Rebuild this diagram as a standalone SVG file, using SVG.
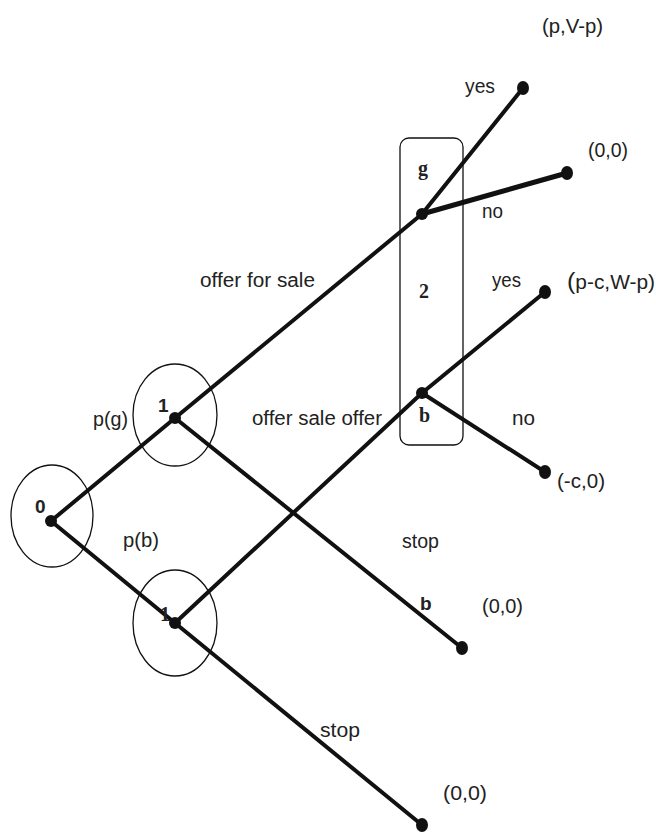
<svg xmlns="http://www.w3.org/2000/svg" width="656" height="836" viewBox="0 0 656 836">
<style>
.e{stroke:#111;stroke-width:4;stroke-linecap:round;fill:none}
.e2{stroke:#111;stroke-width:5;stroke-linecap:round;fill:none}
.c{stroke:#111;stroke-width:1.3;fill:none}
.d{fill:#111}
.t{font-family:"Liberation Sans",Arial,sans-serif;font-size:20px;fill:#222}
.s{font-family:"Liberation Serif","Times New Roman",serif;font-size:20px;font-weight:bold;fill:#222}
.b{font-family:"Liberation Sans",Arial,sans-serif;font-size:19px;font-weight:bold;fill:#222}
</style>
<rect width="656" height="836" fill="#fff"/>
<g id="connectors">
<line class="e" x1="51" y1="521" x2="175" y2="418"/>
<line class="e" x1="51" y1="521" x2="175" y2="623"/>
<line class="e" x1="175" y1="418" x2="422" y2="214"/>
<line class="e" x1="175" y1="418" x2="462" y2="648"/>
<line class="e" x1="175" y1="623" x2="422" y2="393"/>
<line class="e" x1="175" y1="623" x2="422" y2="825"/>
<line class="e" x1="422" y1="214" x2="523" y2="88"/>
<line class="e2" x1="422" y1="214" x2="567" y2="173"/>
<line class="e" x1="422" y1="393" x2="545" y2="292"/>
<line class="e" x1="422" y1="393" x2="545" y2="472"/>
</g>
<g id="info-set-2">
<rect class="c" x="400" y="138" width="63" height="307" rx="9"/>
<text class="s" x="418" y="175">g</text>
<text class="s" x="419" y="298">2</text>
<text class="s" x="419" y="422">b</text>
</g>
<g id="node-0">
<ellipse class="c" cx="52" cy="516" rx="41" ry="51"/>
<circle class="d" cx="51" cy="521" r="6"/>
<text class="b" x="35" y="513">0</text>
</g>
<g id="node-1-top">
<ellipse class="c" cx="175" cy="415" rx="42" ry="51"/>
<circle class="d" cx="175" cy="418" r="6"/>
<text class="b" x="158" y="412">1</text>
</g>
<g id="node-1-bottom">
<ellipse class="c" cx="175" cy="623" rx="42" ry="53"/>
<text class="s" x="160" y="621">1</text>
<circle class="d" cx="175" cy="623" r="6"/>
</g>
<g id="node-g"><circle class="d" cx="422" cy="214" r="6"/></g>
<g id="node-b"><circle class="d" cx="422" cy="393" r="6"/></g>
<g id="term-pVp"><ellipse class="d" cx="523" cy="88" rx="6" ry="7"/><text class="t" x="542" y="33" textLength="61" lengthAdjust="spacingAndGlyphs">(p,V-p)</text></g>
<g id="term-00-top"><ellipse class="d" cx="567" cy="173" rx="6" ry="7"/><text class="t" x="588" y="157" textLength="40" lengthAdjust="spacingAndGlyphs">(0,0)</text></g>
<g id="term-pcWp"><ellipse class="d" cx="545" cy="292" rx="6" ry="7"/><text class="t" x="567" y="289" textLength="88" lengthAdjust="spacingAndGlyphs"><tspan font-size="24">(</tspan>p-c,W-p)</text></g>
<g id="term-c0"><ellipse class="d" cx="545" cy="472" rx="6" ry="7"/><text class="t" x="557" y="488" textLength="48" lengthAdjust="spacingAndGlyphs">(-c,0)</text></g>
<g id="term-00-mid"><ellipse class="d" cx="462" cy="648" rx="6" ry="7"/><text class="t" x="482" y="613" textLength="41" lengthAdjust="spacingAndGlyphs">(0,0)</text></g>
<g id="term-00-bottom"><ellipse class="d" cx="422" cy="825" rx="6" ry="7"/><text class="t" x="443" y="800" textLength="44" lengthAdjust="spacingAndGlyphs">(0,0)</text></g>
<g id="labels">
<text class="t" x="465" y="93" textLength="30" lengthAdjust="spacingAndGlyphs">yes</text>
<text class="t" x="482" y="218" textLength="21" lengthAdjust="spacingAndGlyphs">no</text>
<text class="t" x="200" y="287" textLength="115" lengthAdjust="spacingAndGlyphs">offer for sale</text>
<text class="t" x="492" y="287" textLength="29" lengthAdjust="spacingAndGlyphs">yes</text>
<text class="t" x="252" y="425" textLength="130" lengthAdjust="spacingAndGlyphs">offer sale offer</text>
<text class="t" x="512" y="425" textLength="23" lengthAdjust="spacingAndGlyphs">no</text>
<text class="t" x="93" y="426" textLength="35" lengthAdjust="spacingAndGlyphs">p(g)</text>
<text class="t" x="123" y="547" textLength="36" lengthAdjust="spacingAndGlyphs">p(b)</text>
<text class="t" x="402" y="548" textLength="37" lengthAdjust="spacingAndGlyphs">stop</text>
<text class="b" x="420" y="610">b</text>
<text class="t" x="320" y="737" textLength="40" lengthAdjust="spacingAndGlyphs">stop</text>
</g>
</svg>
